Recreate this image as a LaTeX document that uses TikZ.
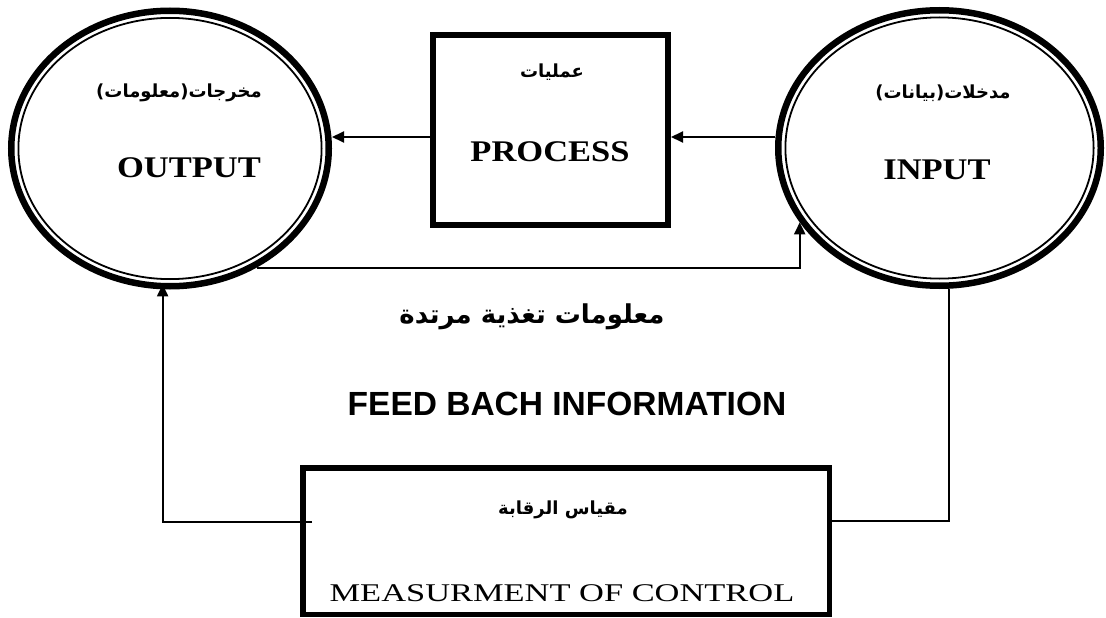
\documentclass[tikz,border=0pt]{standalone}
\usepackage{fontspec}
\usetikzlibrary{shapes.geometric,arrows.meta}
\setmainfont{Liberation Serif}
\newfontfamily\serb[FakeStretch=1.15]{Liberation Serif}
\newfontfamily\serw[FakeStretch=1.35]{Liberation Serif}
\newfontfamily\sansf{Liberation Sans}
\newfontfamily\arabicfont[Script=Arabic]{DejaVu Sans}
\TeXXeTstate=1
\tikzset{
  ellbox/.style={shape=ellipse, draw, line width=6.5pt, inner sep=0pt},
  thickbox/.style={shape=rectangle, draw, inner sep=0pt},
  conn/.style={line width=2pt},
  arr/.style={conn, -{Triangle[length=12pt,width=11pt]}},
  artxt/.style={inner sep=0pt, font=\arabicfont\bfseries\fontsize{18}{20}\selectfont},
  entxt/.style={inner sep=0pt, font=\serb\bfseries\fontsize{30}{32}\selectfont},
}
\begin{document}
\begin{tikzpicture}[x=1pt,y=-1pt]
\useasboundingbox (0,0) rectangle (1106,618);
% shapes
\node[ellbox, minimum width=317.5pt, minimum height=275.5pt] (out) at (170,148.5) {};
\draw[line width=1.8pt] (out.center) ellipse [x radius=151.6, y radius=130.6];
\node[ellbox, minimum width=322.5pt, minimum height=275.5pt] (inp) at (939.5,148) {};
\draw[line width=1.8pt] (inp.center) ellipse [x radius=154.1, y radius=130.6];
\node[thickbox, line width=6pt, minimum width=235pt, minimum height=190pt] (proc) at (550.5,130) {};
\node[thickbox, line width=5.5pt, minimum width=526.5pt, minimum height=146.5pt] (meas) at (566,541) {};
% texts
\node[artxt] (outAr) at (179,93) {\beginR مخرجات(معلومات)\endR};
\node[entxt] (outEn) at (189,168) {OUTPUT};
\node[artxt] (inpAr) at (943,93) {\beginR مدخلات(بيانات)\endR};
\node[entxt] (inpEn) at (937,170) {INPUT};
\node[artxt] (procAr) at (552,72) {\beginR عمليات\endR};
\node[entxt] (procEn) at (550,152) {PROCESS};
\node[artxt] (measAr) at (563,510) {\beginR مقياس الرقابة\endR};
\node[inner sep=0pt, font=\serw\fontsize{25.5}{28}\selectfont] (measEn) at (562,593) {MEASURMENT OF CONTROL};
\node[inner sep=0pt, font=\arabicfont\bfseries\fontsize{26}{30}\selectfont] (fbAr) at (532,317) {\beginR معلومات تغذية مرتدة\endR};
\node[inner sep=0pt, font=\sansf\bfseries\fontsize{33.5}{36}\selectfont] (fbEn) at (567,404) {FEED BACH INFORMATION};
% connectors
\coordinate (lvl) at (0,137);
\coordinate (fb) at (0,521);
\coordinate (stub) at (312,522);
\draw[arr] (proc.west |- lvl) -- (out.east |- lvl);
\draw[arr] (inp.west |- lvl) -- (proc.east |- lvl);
\draw[arr] (out.-54.3) -| (inp.208.3);
\draw[conn] (inp.-86.5) |- (meas.east |- fb);
\draw[arr, shorten >=-5pt] (stub) -| (out.-93.2);
\end{tikzpicture}
\end{document}
